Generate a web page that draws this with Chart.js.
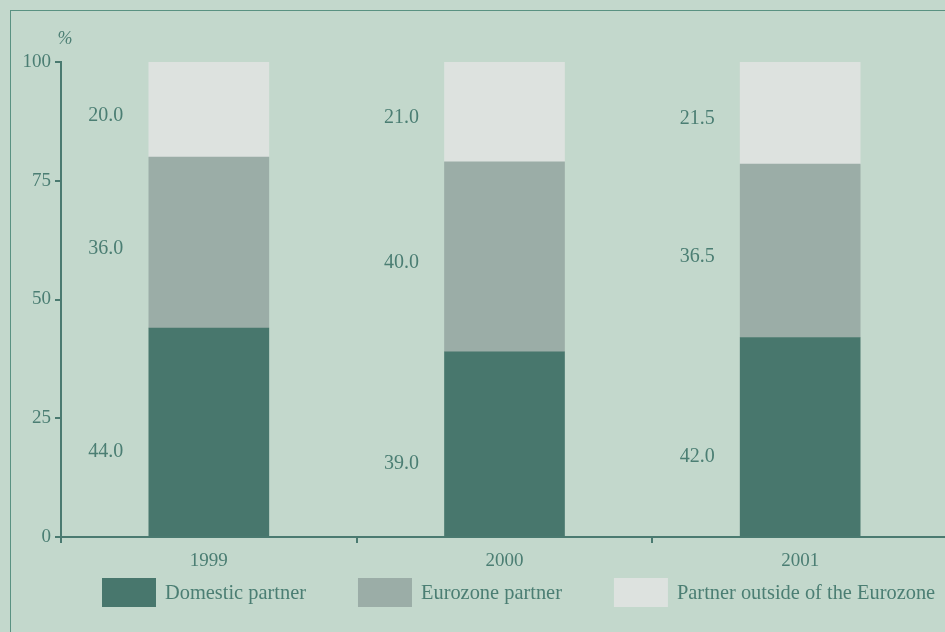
<!DOCTYPE html>
<html><head><meta charset="utf-8">
<script src="https://cdn.jsdelivr.net/npm/chart.js@4"></script>
<style>
html,body{margin:0;padding:0;background:#c3d8cc;overflow:hidden;width:945px;height:632px;}
#frame{position:absolute;left:10px;top:10px;width:1100px;height:700px;border:1px solid #5a9282;box-sizing:border-box;}
#wrap{position:absolute;left:0;top:0;width:1000px;height:632px;}
</style></head><body>
<div id="frame"></div>
<div id="wrap"><canvas id="c" width="1000" height="632"></canvas></div>
<script>
const categories = ['1999', '2000', '2001'];
const domestic = [44.0, 39.0, 42.0];
const eurozone = [36.0, 40.0, 36.5];
const outside = [20.0, 21.0, 21.5];
const seriesNames = ['Domestic partner', 'Eurozone partner', 'Partner outside of the Eurozone'];
const yTickValues = [0, 25, 50, 75, 100];
const unitLabel = '%';

const FONT = '"Liberation Serif", "Times New Roman", serif';
const TEXT = '#4b7e73';
const AXIS = '#4a7a70';
const COLORS = ['#48776d', '#9badA7', '#dde2df'];
const LABEL_DY = [20, 6, 6];

const labelPlugin = {
  id: 'valueLabels',
  afterDatasetsDraw(chart) {
    const ctx = chart.ctx;
    ctx.save();
    ctx.font = '20px ' + FONT;
    ctx.fillStyle = TEXT;
    ctx.textAlign = 'center';
    ctx.textBaseline = 'middle';
    chart.data.datasets.forEach((ds, i) => {
      const meta = chart.getDatasetMeta(i);
      meta.data.forEach((bar, j) => {
        const x = bar.x - bar.width / 2 - 43;
        const y = (bar.y + bar.base) / 2 + LABEL_DY[i];
        ctx.fillText(ds.data[j].toFixed(1), x, y);
      });
    });
    ctx.font = 'italic 18px ' + FONT;
    ctx.fillText(unitLabel, chart.chartArea.left + 4, chart.chartArea.top - 23);
    ctx.restore();
  }
};

const legendPlugin = {
  id: 'customLegend',
  afterDraw(chart) {
    const ctx = chart.ctx;
    const area = chart.chartArea;
    ctx.save();
    ctx.font = '20.4px ' + FONT;
    ctx.textBaseline = 'middle';
    ctx.textAlign = 'left';
    let x = area.left + 41;
    const top = area.bottom + 41;
    const bw = 54, bh = 29, gap = 9, spacing = 52;
    chart.data.datasets.forEach((ds) => {
      ctx.fillStyle = ds.backgroundColor;
      ctx.fillRect(x, top, bw, bh);
      ctx.fillStyle = TEXT;
      ctx.fillText(ds.label, x + bw + gap, top + bh / 2 + 1);
      x += bw + gap + ctx.measureText(ds.label).width + spacing;
    });
    ctx.restore();
  }
};

new Chart(document.getElementById('c'), {
  type: 'bar',
  data: {
    labels: categories,
    datasets: [
      { label: seriesNames[0], data: domestic, backgroundColor: COLORS[0] },
      { label: seriesNames[1], data: eurozone, backgroundColor: COLORS[1] },
      { label: seriesNames[2], data: outside, backgroundColor: COLORS[2] }
    ]
  },
  options: {
    responsive: false,
    animation: false,
    devicePixelRatio: 1,
    layout: { padding: { left: 0, top: 62, right: 52, bottom: 55 } },
    datasets: { bar: { barThickness: 120, borderWidth: 0 } },
    plugins: { legend: { display: false }, tooltip: { enabled: false } },
    scales: {
      x: {
        stacked: true,
        grid: { offset: true, drawOnChartArea: false, drawTicks: true, tickLength: 6, color: AXIS, lineWidth: 2 },
        border: { display: true, color: AXIS, width: 2 },
        ticks: { font: { family: FONT, size: 19 }, color: TEXT, padding: 7 },
        afterFit(s) { s.height = 40; }
      },
      y: {
        stacked: true,
        min: 0, max: 100,
        afterBuildTicks(s) { s.ticks = yTickValues.map(v => ({ value: v })); },
        grid: { drawOnChartArea: false, drawTicks: true, tickLength: 6, color: AXIS, lineWidth: 2 },
        border: { display: true, color: AXIS, width: 2 },
        ticks: { font: { family: FONT, size: 19 }, color: TEXT, padding: 4 },
        afterFit(s) { s.width = 61; }
      }
    }
  },
  plugins: [labelPlugin, legendPlugin]
});
</script>
</body></html>
